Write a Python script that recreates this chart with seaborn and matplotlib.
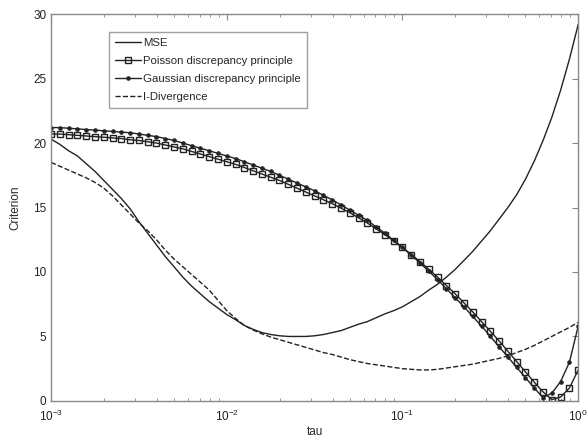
import numpy as np
import pandas as pd
import matplotlib
matplotlib.use("Agg")
import matplotlib.pyplot as plt
import seaborn as sns

# log10(tau) sampling points
tau_exp = [-3.00, -2.95, -2.90, -2.85, -2.80, -2.75, -2.70, -2.65, -2.60, -2.55,
           -2.50, -2.45, -2.40, -2.35, -2.30, -2.25, -2.20, -2.15, -2.10, -2.05,
           -2.00, -1.95, -1.90, -1.85, -1.80, -1.75, -1.70, -1.65, -1.60, -1.55,
           -1.50, -1.45, -1.40, -1.35, -1.30, -1.25, -1.20, -1.15, -1.10, -1.05,
           -1.00, -0.95, -0.90, -0.85, -0.80, -0.75, -0.70, -0.65, -0.60, -0.55,
           -0.50, -0.45, -0.40, -0.35, -0.30, -0.25, -0.20, -0.15, -0.10, -0.05,
           0.00]

mse = [20.3, 19.9, 19.4, 19.0, 18.4, 17.8, 17.1, 16.4, 15.7, 14.9,
       13.9, 13.0, 12.1, 11.2, 10.4, 9.6, 8.9, 8.3, 7.7, 7.2,
       6.7, 6.3, 5.85, 5.55, 5.3, 5.15, 5.05, 5.0, 5.0, 5.0,
       5.05, 5.15, 5.3, 5.45, 5.7, 5.95, 6.15, 6.45, 6.75, 7.0,
       7.3, 7.7, 8.1, 8.6, 9.05, 9.6, 10.2, 10.9, 11.6, 12.4,
       13.2, 14.1, 15.0, 16.0, 17.2, 18.6, 20.2, 22.0, 24.1, 26.5,
       29.2]

poisson = [20.7, 20.7, 20.65, 20.6, 20.55, 20.5, 20.45, 20.4, 20.35, 20.25,
           20.2, 20.1, 20.0, 19.85, 19.7, 19.55, 19.35, 19.15, 18.95, 18.75,
           18.55, 18.35, 18.1, 17.85, 17.6, 17.35, 17.1, 16.8, 16.5, 16.2,
           15.9, 15.6, 15.3, 14.95, 14.6, 14.2, 13.8, 13.35, 12.9, 12.4,
           11.9, 11.35, 10.8, 10.2, 9.6, 8.95, 8.3, 7.6, 6.9, 6.15,
           5.4, 4.65, 3.85, 3.05, 2.25, 1.45, 0.7, 0.1, 0.3, 1.0,
           2.4]

gaussian = [21.2, 21.2, 21.15, 21.1, 21.05, 21.0, 20.95, 20.9, 20.85, 20.8,
            20.7, 20.6, 20.5, 20.35, 20.2, 20.0, 19.8, 19.6, 19.4, 19.2,
            19.0, 18.8, 18.55, 18.3, 18.05, 17.8, 17.5, 17.2, 16.9, 16.6,
            16.3, 15.95, 15.6, 15.2, 14.8, 14.4, 14.0, 13.5, 13.0, 12.45,
            11.9, 11.3, 10.7, 10.05, 9.4, 8.7, 8.0, 7.3, 6.55, 5.8,
            5.0, 4.2, 3.4, 2.6, 1.8, 1.0, 0.25, 0.6, 1.5, 3.0,
            5.8]

idiv = [18.5, 18.2, 17.9, 17.6, 17.3, 16.95, 16.5, 15.9, 15.2, 14.5,
        13.8, 13.2, 12.5, 11.7, 11.0, 10.4, 9.8, 9.2, 8.6, 7.8,
        7.0, 6.4, 5.85, 5.5, 5.2, 4.95, 4.75, 4.55, 4.35, 4.15,
        3.95, 3.75, 3.6, 3.4, 3.2, 3.05, 2.9, 2.8, 2.7, 2.6,
        2.5, 2.45, 2.4, 2.4, 2.45, 2.55, 2.65, 2.75, 2.85, 3.0,
        3.15, 3.3, 3.5, 3.75, 4.0, 4.3, 4.65, 5.0, 5.35, 5.7,
        6.1]

tau = 10.0 ** np.array(tau_exp)
df = pd.DataFrame({"tau": tau, "MSE": mse, "Poisson": poisson,
                   "Gaussian": gaussian, "IDiv": idiv})

sns.set_style("white")
plt.rcParams["font.family"] = ["Liberation Sans", "DejaVu Sans"]

fig = plt.figure(figsize=(5.87, 4.42), dpi=100)
ax = fig.add_axes([0.087, 0.093, 0.898, 0.875])

lc = "#222222"
sns.lineplot(data=df, x="tau", y="MSE", ax=ax, color=lc, lw=1.0,
             label="MSE", estimator=None, sort=False)
sns.lineplot(data=df, x="tau", y="Poisson", ax=ax, color=lc, lw=1.0,
             marker="s", markersize=4, markerfacecolor="none",
             markeredgecolor=lc, markeredgewidth=1.0,
             label="Poisson discrepancy principle", estimator=None, sort=False)
sns.lineplot(data=df, x="tau", y="Gaussian", ax=ax, color=lc, lw=1.0,
             marker=".", markersize=5, markeredgecolor=lc,
             label="Gaussian discrepancy principle", estimator=None, sort=False)
sns.lineplot(data=df, x="tau", y="IDiv", ax=ax, color=lc, lw=1.0,
             linestyle="--", dashes=(5, 3),
             label="I-Divergence", estimator=None, sort=False)

ax.set_xscale("log")
ax.set_xlim(1e-3, 1e0)
ax.set_ylim(0, 30)
ax.set_yticks([0, 5, 10, 15, 20, 25, 30])
ax.set_xticks([1e-3, 1e-2, 1e-1, 1e0])
ax.set_xlabel("tau", fontsize=8.5, labelpad=1)
ax.set_ylabel("Criterion", fontsize=8.5, labelpad=8)

for s in ax.spines.values():
    s.set_visible(True)
    s.set_color("#888888")
    s.set_linewidth(1.0)
ax.tick_params(which="both", direction="in", top=True, right=True,
               color="#888888", labelsize=8.5, labelcolor="#222222")
ax.tick_params(which="major", length=4)
ax.tick_params(which="minor", length=2, bottom=True, top=True)
ax.tick_params(axis="x", which="major", pad=6)

leg = ax.legend(loc="upper left", bbox_to_anchor=(0.110, 0.953),
                borderaxespad=0, fontsize=8.2, frameon=True, fancybox=False,
                handlelength=2.3, handletextpad=0.2, labelspacing=0.7,
                borderpad=0.5)
leg.get_frame().set_edgecolor("#888888")
leg.get_frame().set_linewidth(1.0)

fig.savefig("out.png", dpi=100)
